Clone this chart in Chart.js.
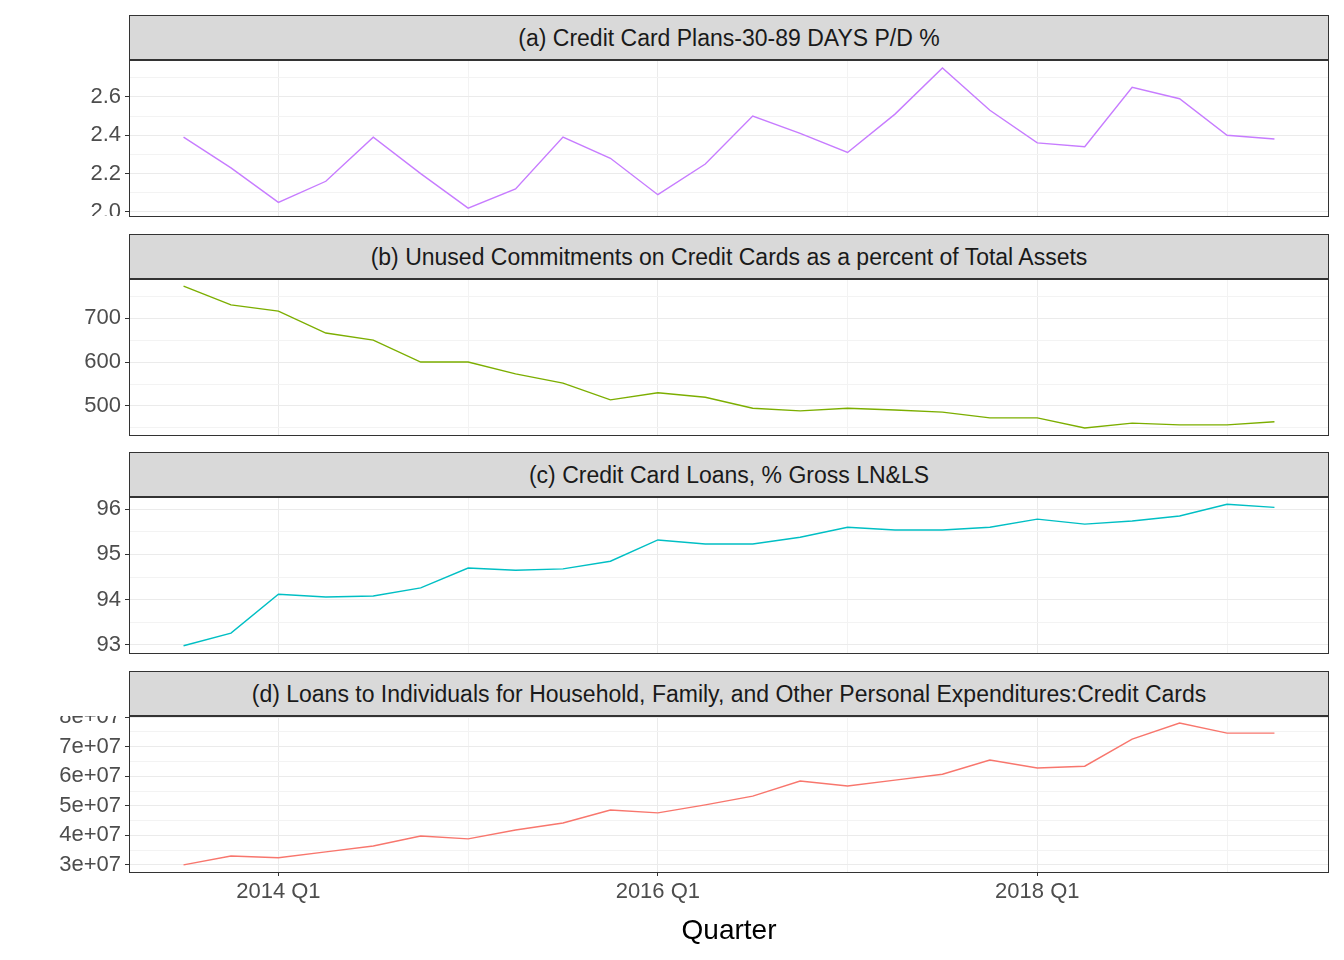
<!DOCTYPE html>
<html>
<head>
<meta charset="utf-8">
<script src="https://cdn.jsdelivr.net/npm/chart.js@4"></script>
<style>
  body { margin: 0; background: #fff; width: 1344px; height: 960px; position: relative; overflow: hidden; font-family: Arial, "Liberation Sans", sans-serif; }
  .strip { position: absolute; left: 129px; width: 1198px; background: #d9d9d9; border: 1px solid #333; color: #1a1a1a; font-size: 23px; text-align: center; box-sizing: content-box; }
  .box { position: absolute; left: 129px; width: 1198px; border: 1px solid #333; pointer-events: none; }
  .wrap { position: absolute; left: 0; width: 1329px; }
</style>
</head>
<body>
<script>
// quarters 2013 Q3 .. 2019 Q2
const quarters = ["2013 Q3","2013 Q4","2014 Q1","2014 Q2","2014 Q3","2014 Q4","2015 Q1","2015 Q2","2015 Q3","2015 Q4",
  "2016 Q1","2016 Q2","2016 Q3","2016 Q4","2017 Q1","2017 Q2","2017 Q3","2017 Q4","2018 Q1","2018 Q2","2018 Q3","2018 Q4","2019 Q1","2019 Q2"];

const pastDue = [2.39,2.23,2.05,2.16,2.39,2.20,2.02,2.12,2.39,2.28,2.09,2.25,2.50,2.41,2.31,2.51,2.75,2.53,2.36,2.34,2.65,2.59,2.40,2.38];
const unusedCommit = [773,730,716,666,650,600,600,573,552,514,530,520,495,489,495,491,486,473,473,450,461,457,457,464];
const loanShare = [92.98,93.26,94.12,94.06,94.08,94.26,94.70,94.65,94.68,94.85,95.32,95.23,95.23,95.38,95.60,95.54,95.54,95.60,95.78,95.67,95.74,95.85,96.11,96.04];
const consumerLoans = [3.00e7,3.30e7,3.24e7,3.44e7,3.64e7,3.98e7,3.88e7,4.18e7,4.42e7,4.86e7,4.76e7,5.03e7,5.33e7,5.84e7,5.67e7,5.87e7,6.07e7,6.55e7,6.28e7,6.34e7,7.26e7,7.80e7,7.46e7,7.46e7];

const xMajor = [2, 10, 18];
const xMinor = [6, 14, 22];

const panels = [
  { title: "(a) Credit Card Plans-30-89 DAYS P/D %", data: pastDue, color: "#C77CFF",
    top: 60, min: 1.979, max: 2.792, major: [2.0,2.2,2.4,2.6], minor: [2.1,2.3,2.5,2.7], fmt: v => v.toFixed(1) },
  { title: "(b) Unused Commitments on Credit Cards as a percent of Total Assets", data: unusedCommit, color: "#7CAE00",
    top: 279, min: 434, max: 789, major: [500,600,700], minor: [450,550,650,750], fmt: v => String(v) },
  { title: "(c) Credit Card Loans, % Gross LN&LS", data: loanShare, color: "#00BFC4",
    top: 497, min: 92.82, max: 96.27, major: [93,94,95,96], minor: [93.5,94.5,95.5], fmt: v => String(v) },
  { title: "(d) Loans to Individuals for Household, Family, and Other Personal Expenditures:Credit Cards", data: consumerLoans, color: "#F8766D",
    top: 716, min: 2.76e7, max: 8.04e7, major: [3e7,4e7,5e7,6e7,7e7,8e7], minor: [3.5e7,4.5e7,5.5e7,6.5e7,7.5e7], fmt: v => Math.round(v / 1e7) + "e+07" },
];

const PANEL_H = 156;
const FONT = "Arial, 'Liberation Sans'";
const tickList = (major, minor) => major.map(v => ({ value: v })).concat(minor.map(v => ({ value: v, minor: true })));
const gridColor = ctx => (ctx.tick && ctx.tick.minor ? "#f3f3f3" : "#ebebeb");
const tickColor = ctx => (ctx.tick && ctx.tick.minor ? "transparent" : "#333");

panels.forEach((p, idx) => {
  const last = idx === panels.length - 1;
  const strip = document.createElement("div");
  strip.className = "strip";
  strip.style.top = (p.top - 45) + "px";
  strip.style.height = "43px";
  strip.style.lineHeight = "45px";
  strip.textContent = p.title;
  document.body.appendChild(strip);

  const wrap = document.createElement("div");
  wrap.className = "wrap";
  wrap.style.top = p.top + "px";
  wrap.style.height = (last ? 236 : PANEL_H) + "px";
  const canvas = document.createElement("canvas");
  wrap.appendChild(canvas);
  document.body.appendChild(wrap);

  const box = document.createElement("div");
  box.className = "box";
  box.style.top = p.top + "px";
  box.style.height = (PANEL_H - 1) + "px";
  document.body.appendChild(box);

  new Chart(canvas, {
    type: "line",
    data: {
      datasets: [{
        data: p.data.map((v, i) => ({ x: i, y: v })),
        borderColor: p.color,
        borderWidth: 1.4,
        pointRadius: 0,
        tension: 0,
        fill: false,
      }],
    },
    options: {
      responsive: true,
      maintainAspectRatio: false,
      animation: false,
      layout: { padding: 0 },
      plugins: { legend: { display: false }, tooltip: { enabled: false } },
      scales: {
        x: {
          type: "linear",
          min: -1.15,
          max: 24.15,
          afterBuildTicks: s => { s.ticks = tickList(xMajor, xMinor); },
          afterFit: s => { s.height = last ? 80 : 0; s.paddingLeft = 0; s.paddingRight = 0; },
          grid: { color: gridColor, tickColor: tickColor, tickLength: last ? 4 : 0 },
          border: { display: false },
          ticks: {
            display: last,
            autoSkip: false, maxRotation: 0, padding: 3,
            color: "#4d4d4d", font: { family: FONT, size: 22 },
            callback: (v, i, ticks) => (ticks[i].minor ? "" : quarters[v]),
          },
          title: { display: last, text: "Quarter", color: "#000", font: { family: FONT, size: 28 }, padding: { top: 0, bottom: 4 } },
        },
        y: {
          min: p.min,
          max: p.max,
          afterBuildTicks: s => { s.ticks = tickList(p.major, p.minor); },
          afterFit: s => { s.width = 129; s.paddingTop = 0; s.paddingBottom = 0; },
          grid: { color: gridColor, tickColor: tickColor, tickLength: 4 },
          border: { display: false },
          ticks: {
            autoSkip: false,
            padding: 4, color: "#4d4d4d", font: { family: FONT, size: 22 },
            callback: (v, i, ticks) => (ticks[i].minor ? "" : p.fmt(v)),
          },
        },
      },
    },
  });
});
</script>
</body>
</html>
